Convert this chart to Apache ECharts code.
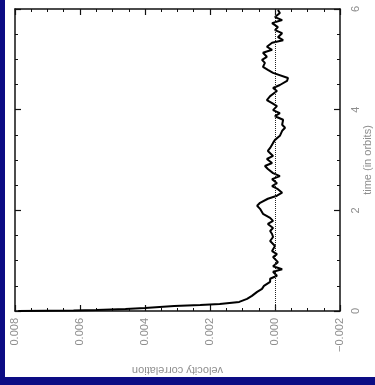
<!DOCTYPE html>
<html>
<head>
<meta charset="utf-8">
<script src="https://cdn.jsdelivr.net/npm/echarts@6/dist/echarts.min.js"></script>
<style>
  html, body { margin: 0; padding: 0; width: 375px; height: 385px; overflow: hidden; background: #0c0c84; }
  #chart { position: absolute; left: 5px; top: 0; width: 370px; height: 377px; background: #ffffff; }
</style>
</head>
<body>
<div id="chart"></div>
<script>
// Time samples (in orbits) of the velocity correlation curve
const timeOrbits = [
  0.00, 0.01, 0.02, 0.04, 0.06, 0.10, 0.12, 0.14, 0.18, 0.24, 0.30, 0.38, 0.44, 0.50, 0.58,
  0.64, 0.70, 0.78, 0.83, 0.89, 0.97, 1.07, 1.13, 1.19, 1.29, 1.39, 1.47, 1.53,
  1.59, 1.65, 1.73, 1.79, 1.85, 1.93, 2.03, 2.09, 2.15, 2.23, 2.29, 2.35, 2.42, 2.48,
  2.54, 2.62, 2.68, 2.74, 2.82, 2.88, 2.94, 3.02, 3.08,
  3.18, 3.24, 3.34, 3.40, 3.48, 3.58, 3.64, 3.70, 3.80, 3.87, 3.93, 3.99, 4.07, 4.13,
  4.19, 4.27, 4.37, 4.43, 4.49, 4.57, 4.63,
  4.73, 4.79, 4.85, 4.93, 4.99, 5.05, 5.13, 5.19, 5.25, 5.33, 5.38, 5.44, 5.52, 5.58,
  5.64, 5.72, 5.78, 5.84, 5.92, 5.98
];
// Velocity correlation at each time sample
const velocityCorrelation = [
  0.0079, 0.0062, 0.0055, 0.0046, 0.0040, 0.0031, 0.0023, 0.0017, 0.0011, 0.00086, 0.00071, 0.00055, 0.00040, 0.00034, 0.00015,
  0.00015, -0.00006, 0.00006, -0.00022, 0.00006, -0.00009, 0.00006, -0.00006, 0.00009, 0.00000, 0.00015, 0.00006, 0.00009,
  0.00015, 0.00006, 0.00022, 0.00006, 0.00015, 0.00037, 0.00046, 0.00055, 0.00046, 0.00022, -0.00006, -0.00022, -0.00009, 0.00009,
  -0.00006, 0.00009, -0.00015, 0.00006, 0.00022, 0.00031, 0.00009, 0.00025, 0.00006,
  0.00022, 0.00015, 0.00006, 0.00000, -0.00015, -0.00022, -0.00031, -0.00022, -0.00025, 0.00000, -0.00015, 0.00006, -0.00006, 0.00009,
  0.00025, 0.00015, -0.00006, 0.00006, -0.00015, -0.00037, -0.00040,
  0.00006, 0.00022, 0.00037, 0.00031, 0.00040, 0.00025, 0.00037, 0.00009, 0.00025, 0.00009, -0.00025, -0.00009, -0.00022, 0.00000,
  -0.00009, 0.00009, -0.00022, 0.00000, -0.00015, -0.00009
];
// Axis ranges and tick steps
const velocityTicks = [-0.002, 0.000, 0.002, 0.004, 0.006, 0.008];
const timeTicks = [0, 2, 4, 6];

const curve = timeOrbits.map((t, i) => [velocityCorrelation[i], t]);

const labelColor = '#8e8e8e';
const font = 'Liberation Sans, Arial, sans-serif';

function fmtVelocity(v) {
  return (v < -1e-9 ? '\u2212' : '') + Math.abs(v).toFixed(3);
}

const frameLine = { show: true, onZero: false, lineStyle: { color: '#111', width: 1.5 } };
const majorTick = { show: true, inside: true, length: 6, lineStyle: { color: '#111', width: 1.2 } };
const minorTick = { show: true, splitNumber: 4, length: 3, lineStyle: { color: '#111', width: 1 } };

function velocityAxis(position, withText) {
  return {
    type: 'value',
    position: position,
    min: velocityTicks[0],
    max: velocityTicks[velocityTicks.length - 1],
    interval: velocityTicks[1] - velocityTicks[0],
    inverse: true,
    axisLine: frameLine,
    axisTick: majorTick,
    minorTick: minorTick,
    splitLine: { show: false },
    axisLabel: withText ? {
      rotate: 90, margin: 7, color: labelColor, fontSize: 11, fontFamily: font,
      formatter: fmtVelocity
    } : { show: false },
    name: withText ? 'velocity correlation' : '',
    nameLocation: 'middle',
    nameRotate: 180,
    nameGap: 54,
    nameMoveOverlap: false,
    nameTextStyle: { color: labelColor, fontSize: 11, fontFamily: font }
  };
}

function timeAxis(position, withText) {
  return {
    type: 'value',
    position: position,
    min: timeTicks[0],
    max: timeTicks[timeTicks.length - 1],
    interval: timeTicks[1] - timeTicks[0],
    axisLine: frameLine,
    axisTick: majorTick,
    minorTick: minorTick,
    splitLine: { show: false },
    axisLabel: withText ? {
      rotate: 90, margin: 10, color: labelColor, fontSize: 11, fontFamily: font
    } : { show: false },
    name: withText ? 'time (in orbits)' : '',
    nameLocation: 'middle',
    nameRotate: 90,
    nameGap: 22,
    nameMoveOverlap: false,
    nameTextStyle: { color: labelColor, fontSize: 11, fontFamily: font }
  };
}

const chart = echarts.init(document.getElementById('chart'), null, { renderer: 'canvas' });
chart.setOption({
  animation: false,
  backgroundColor: '#ffffff',
  grid: { left: 10, right: 35, top: 9, bottom: 66, containLabel: false, outerBoundsMode: 'none' },
  xAxis: [velocityAxis('bottom', true), velocityAxis('top', false)],
  yAxis: [timeAxis('right', true), timeAxis('left', false)],
  series: [{
    type: 'line',
    xAxisIndex: 0,
    yAxisIndex: 0,
    data: curve,
    showSymbol: false,
    symbol: 'none',
    lineStyle: { color: '#000', width: 2 },
    markLine: {
      silent: true,
      symbol: 'none',
      label: { show: false },
      lineStyle: { type: 'dotted', color: '#222', width: 1 },
      data: [{ xAxis: 0 }]
    }
  }]
});
</script>
</body>
</html>
